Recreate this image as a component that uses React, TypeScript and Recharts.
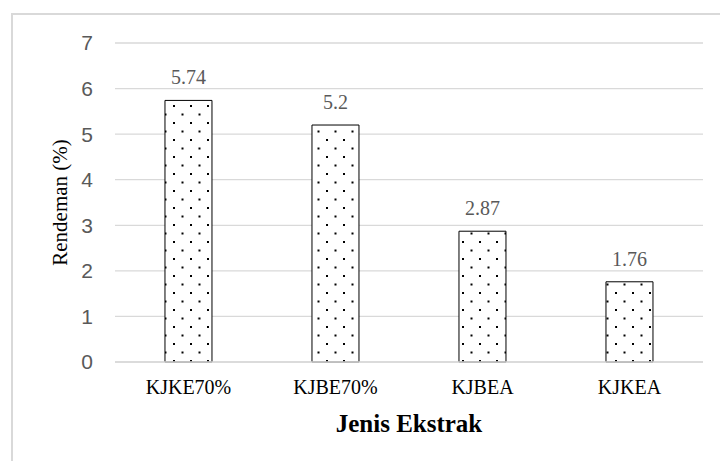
import { BarChart, Bar, XAxis, YAxis, CartesianGrid, LabelList } from 'recharts'

const categories = ['KJKE70%', 'KJBE70%', 'KJBEA', 'KJKEA']
const rendeman = [5.74, 5.2, 2.87, 1.76]
const yTicks = [0, 1, 2, 3, 4, 5, 6, 7]

const data = categories.map((name, i) => ({ name, value: rendeman[i] }))

const serif = '"Liberation Serif", "Times New Roman", serif'
const sans = '"Liberation Sans", Arial, sans-serif'

function YLabel({ viewBox }: any) {
  const cx = viewBox.x + 60
  const cy = viewBox.y + viewBox.height / 2
  return (
    <text
      x={cx}
      y={cy}
      transform={`rotate(-90, ${cx}, ${cy})`}
      textAnchor="middle"
      dominantBaseline="central"
      style={{ fontFamily: serif, fontSize: 21 }}
      fill="#000"
    >
      Rendeman (%)
    </text>
  )
}

function XLabel({ viewBox }: any) {
  return (
    <text
      x={viewBox.x + viewBox.width / 2}
      y={viewBox.y + 70}
      textAnchor="middle"
      style={{ fontFamily: serif, fontSize: 25, fontWeight: 'bold' }}
      fill="#000"
    >
      Jenis Ekstrak
    </text>
  )
}

function ValueLabel({ x, y, width, value }: any) {
  return (
    <text
      x={x + width / 2}
      y={y - 16}
      textAnchor="middle"
      style={{ fontFamily: serif, fontSize: 20 }}
      fill="#595959"
    >
      {value}
    </text>
  )
}

function YTick({ x, y, payload }: any) {
  return (
    <text x={x} y={y} dy="0.355em" textAnchor="end" style={{ fontFamily: sans, fontSize: 21 }} fill="#595959">
      {payload.value}
    </text>
  )
}

function XTick({ x, y, payload }: any) {
  return (
    <text x={x} y={y} dy="0.71em" textAnchor="middle" style={{ fontFamily: serif, fontSize: 20 }} fill="#000">
      {payload.value}
    </text>
  )
}

export default function App() {
  return (
    <div style={{ position: 'absolute', left: 0, top: 0, width: 720, height: 461, overflow: 'hidden', background: '#fff' }}>
      <div
        style={{
          position: 'absolute',
          left: 11,
          top: 13,
          width: 800,
          height: 600,
          border: '2px solid #d9d9d9',
        }}
      />
      <svg width={0} height={0} style={{ position: 'absolute' }}>
        <defs>
          <pattern id="dots" patternUnits="userSpaceOnUse" width={17} height={17}>
            <rect width={17} height={17} fill="#fff" />
            <rect x={3} y={3} width={2} height={2} fill="#000" />
            <rect x={11.5} y={11.5} width={2} height={2} fill="#000" />
          </pattern>
        </defs>
      </svg>
      <div style={{ position: 'absolute', left: 0, top: 0 }}>
        <BarChart
          width={720}
          height={461}
          data={data}
          margin={{ top: 43, right: 17, left: 0, bottom: 0 }}
          barCategoryGap="34%"
        >
          <CartesianGrid vertical={false} stroke="#d9d9d9" strokeWidth={1.3} />
          <XAxis
            dataKey="name"
            height={99}
            axisLine={{ stroke: '#d9d9d9', strokeWidth: 1.3 }}
            tickLine={false}
            tickSize={0}
            tickMargin={18}
            tick={<XTick />}
            label={<XLabel />}
          />
          <YAxis
            width={115}
            domain={[0, 7]}
            ticks={yTicks}
            axisLine={false}
            tickLine={false}
            tickSize={0}
            tickMargin={22}
            tick={<YTick />}
            label={<YLabel />}
          />
          <Bar dataKey="value" fill="url(#dots)" stroke="#000" strokeWidth={1} isAnimationActive={false}>
            <LabelList dataKey="value" content={<ValueLabel />} />
          </Bar>
        </BarChart>
      </div>
    </div>
  )
}
